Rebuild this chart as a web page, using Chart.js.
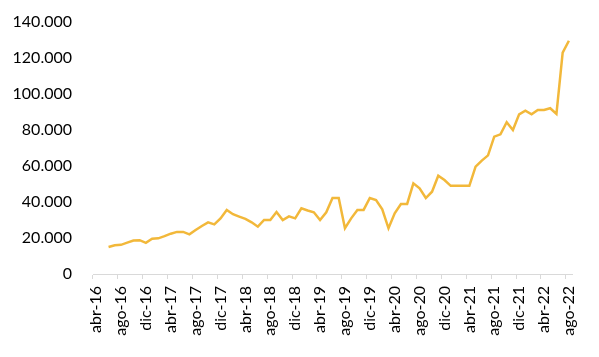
<!DOCTYPE html>
<html>
<head>
<meta charset="utf-8">
<script src="https://cdn.jsdelivr.net/npm/chart.js@4/dist/chart.umd.min.js"></script>
<style>
  html, body { margin: 0; padding: 0; background: #fff; }
  #wrap { width: 599px; height: 357px; }
</style>
</head>
<body>
<div id="wrap"><canvas id="lineChart" width="599" height="357"></canvas></div>
<script>
// months abr-16 .. ago-22
const months = [
  "abr-16", "may-16", "jun-16", "jul-16", "ago-16", "sep-16", "oct-16", "nov-16", "dic-16",
  "ene-17", "feb-17", "mar-17", "abr-17", "may-17", "jun-17", "jul-17", "ago-17", "sep-17", "oct-17", "nov-17", "dic-17",
  "ene-18", "feb-18", "mar-18", "abr-18", "may-18", "jun-18", "jul-18", "ago-18", "sep-18", "oct-18", "nov-18", "dic-18",
  "ene-19", "feb-19", "mar-19", "abr-19", "may-19", "jun-19", "jul-19", "ago-19", "sep-19", "oct-19", "nov-19", "dic-19",
  "ene-20", "feb-20", "mar-20", "abr-20", "may-20", "jun-20", "jul-20", "ago-20", "sep-20", "oct-20", "nov-20", "dic-20",
  "ene-21", "feb-21", "mar-21", "abr-21", "may-21", "jun-21", "jul-21", "ago-21", "sep-21", "oct-21", "nov-21", "dic-21",
  "ene-22", "feb-22", "mar-22", "abr-22", "may-22", "jun-22", "jul-22", "ago-22"
];

const values = [
  null, null, 15000, 16000, 16200, 17400, 18600, 18800, 17300,
  19600, 19800, 21000, 22400, 23400, 23400, 22000, 24400, 26700, 28700, 27600, 30900,
  35600, 33200, 31900, 30600, 28700, 26300, 30000, 30000, 34400, 30000, 32000, 30900,
  36500, 35300, 34300, 30000, 34300, 42200, 42200, 25400, 30900, 35600, 35600, 42200,
  41100, 35900, 25400, 33700, 38900, 38900, 50400, 47600, 42200, 45700, 54600, 52200,
  49000, 49000, 49000, 49000, 59600, 63000, 65900, 76300, 77600, 84300, 80000, 88700,
  90700, 88700, 91100, 91100, 92100, 88900, 123000, 129600
];

const yTicks = [0, 20000, 40000, 60000, 80000, 100000, 120000, 140000];

const labelEvery = 4;
const fontFamily = "Lato, 'Liberation Sans', sans-serif";

function formatThousands(v) {
  return String(v).replace(/\B(?=(\d{3})+(?!\d))/g, ".");
}

const ctx = document.getElementById("lineChart").getContext("2d");

new Chart(ctx, {
  type: "line",
  data: {
    labels: months,
    datasets: [{
      data: values,
      borderColor: "#F2B83A",
      borderWidth: 2.5,
      pointRadius: 0,
      tension: 0,
      fill: false
    }]
  },
  options: {
    responsive: false,
    animation: false,
    layout: { padding: { top: 22, right: 27, bottom: 0, left: 0 } },
    plugins: {
      legend: { display: false },
      tooltip: { enabled: false }
    },
    scales: {
      x: {
        offset: true,
        grid: {
          display: true,
          drawOnChartArea: false,
          drawTicks: true,
          tickLength: 5,
          offset: true,
          color: c => (c.index % labelEvery === 0 ? "#d9d9d9" : "rgba(0,0,0,0)")
        },
        border: { display: true, color: "#d9d9d9", width: 1 },
        ticks: {
          autoSkip: false,
          minRotation: 90,
          maxRotation: 90,
          padding: 7,
          color: "#000",
          font: { family: fontFamily, size: 16 },
          callback: (val, i) => (i % labelEvery === 0 ? months[i] : "")
        },
        afterFit: s => { s.height = 83; }
      },
      y: {
        min: yTicks[0],
        max: yTicks[yTicks.length - 1],
        grid: { display: false, drawTicks: false },
        border: { display: false },
        afterBuildTicks: s => { s.ticks = yTicks.map(v => ({ value: v })); },
        ticks: {
          padding: 21,
          color: "#000",
          font: { family: fontFamily, size: 16 },
          callback: v => formatThousands(v)
        },
        afterFit: s => {
          s.width = 93;
          // the label gap shouldn't push the plot down
          s.paddingTop = 0;
          s.paddingBottom = 0;
        }
      }
    }
  }
});
</script>
</body>
</html>
